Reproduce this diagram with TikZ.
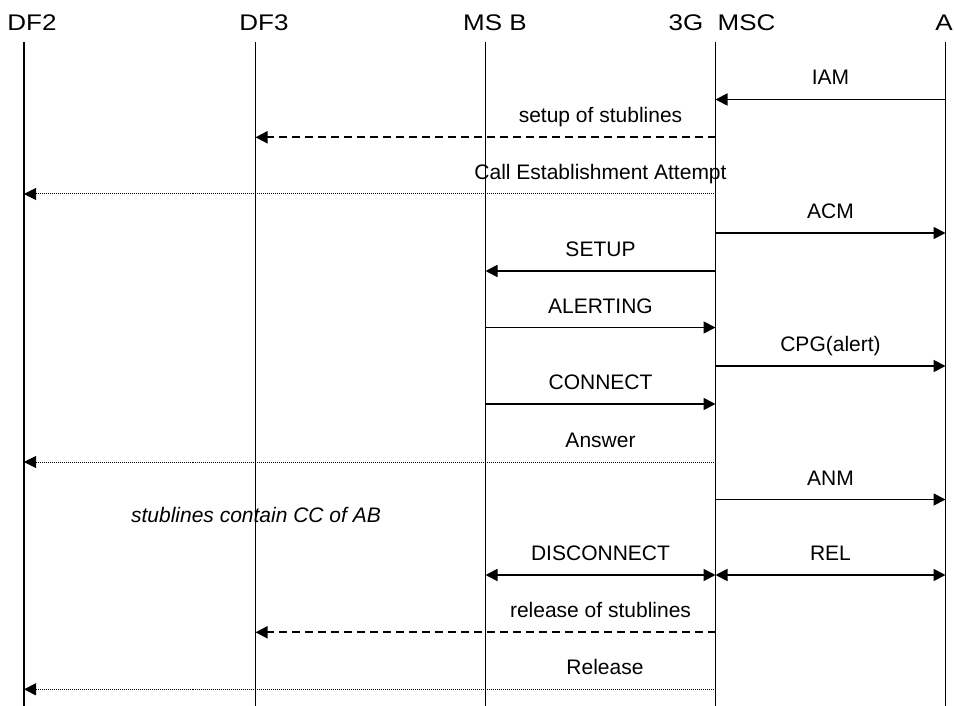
\documentclass[tikz,border=0pt]{standalone}
\usepackage{fontspec}
\setmainfont{Liberation Sans}
\newfontfamily\hdrfont[FakeStretch=1.15]{Liberation Sans}
\usetikzlibrary{arrows.meta}
\begin{document}
\begin{tikzpicture}[x=1pt,y=-1pt,
  lifeline/.style={line width=1.8pt},
  tipA/.style={-{Triangle[length=12pt,width=12pt]}},
  tipB/.style={{Triangle[length=12pt,width=12pt]}-{Triangle[length=12pt,width=12pt]}},
  msg/.style={line width=1.8pt},
  dmsg/.style={line width=1.8pt,dash pattern=on 8pt off 5pt},
  omsg/.style={line width=1pt,dash pattern=on 1pt off 1pt},
  lbl/.style={font=\fontsize{21}{25}\selectfont, anchor=base, inner sep=0pt},
  note/.style={font=\fontsize{21}{25}\selectfont\itshape, anchor=base, inner sep=0pt},
  hdr/.style={font=\hdrfont\fontsize{22.6}{27}\selectfont, anchor=base, inner sep=0pt}]
\useasboundingbox (0,0) rectangle (954,706);
% headers
\node[hdr] (hdftwo) at (32,31) {DF2};
\node[hdr] (hdfthree) at (264,31) {DF3};
\node[hdr] (hmsb) at (495,31) {MS B};
\node[hdr] (hmsc) at (722,31) {3G\ \ MSC};
\node[hdr] (ha) at (944,31) {A};
% lifelines
\coordinate (dftwo) at (24,42);      \coordinate (dftwoB) at (24,706);
\coordinate (dfthree) at (255.5,42); \coordinate (dfthreeB) at (255.5,706);
\coordinate (msb) at (485.5,42);     \coordinate (msbB) at (485.5,706);
\coordinate (msc) at (715.5,42);     \coordinate (mscB) at (715.5,706);
\coordinate (a) at (945.5,42);       \coordinate (aB) at (945.5,706);
\foreach \l in {dftwo,dfthree,msb,msc,a} \draw[lifeline] (\l) -- (\l B);
% rows
\coordinate (r1) at (0,99.5);
\coordinate (r2) at (0,137.3);
\coordinate (r3) at (0,194);
\coordinate (r4) at (0,233);
\coordinate (r5) at (0,271);
\coordinate (r6) at (0,327.5);
\coordinate (r7) at (0,366);
\coordinate (r8) at (0,404);
\coordinate (r9) at (0,462);
\coordinate (r10) at (0,499.5);
\coordinate (r11) at (0,575);
\coordinate (r12) at (0,632.3);
\coordinate (r13) at (0,689.3);
% messages
\draw[msg,tipA] (a |- r1) -- (msc |- r1);
\node[lbl] (l1) at (830.5,85) {IAM};
\draw[dmsg,tipA] (msc |- r2) -- (dfthree |- r2);
\node[lbl] (l2) at (600.5,122.8) {setup of stublines};
\draw[omsg,tipA] (msc |- r3) -- (dftwo |- r3);
\node[lbl] (l3) at (600.5,179.5) {Call Establishment Attempt};
\draw[msg,tipA] (msc |- r4) -- (a |- r4);
\node[lbl] (l4) at (830.5,218.5) {ACM};
\draw[msg,tipA] (msc |- r5) -- (msb |- r5);
\node[lbl] (l5) at (600.5,256.5) {SETUP};
\draw[msg,tipA] (msb |- r6) -- (msc |- r6);
\node[lbl] (l6) at (600.5,313) {ALERTING};
\draw[msg,tipA] (msc |- r7) -- (a |- r7);
\node[lbl] (l7) at (830.5,351.5) {CPG(alert)};
\draw[msg,tipA] (msb |- r8) -- (msc |- r8);
\node[lbl] (l8) at (600.5,389.5) {CONNECT};
\draw[omsg,tipA] (msc |- r9) -- (dftwo |- r9);
\node[lbl] (l9) at (600.5,447.5) {Answer};
\draw[msg,tipA] (msc |- r10) -- (a |- r10);
\node[lbl] (l10) at (830.5,485) {ANM};
\node[note] (n1) at (256,522.5) {stublines contain CC of AB};
\draw[msg,tipB] (msb |- r11) -- (msc |- r11);
\node[lbl] (l11) at (600.5,560.5) {DISCONNECT};
\draw[msg,tipB] (msc |- r11) -- (a |- r11);
\node[lbl] (l12) at (830.5,560.5) {REL};
\draw[dmsg,tipA] (msc |- r12) -- (dfthree |- r12);
\node[lbl] (l13) at (600.5,617.8) {release of stublines};
\draw[omsg,tipA] (msc |- r13) -- (dftwo |- r13);
\node[lbl] (l14) at (605,674.8) {Release};
\end{tikzpicture}
\end{document}
